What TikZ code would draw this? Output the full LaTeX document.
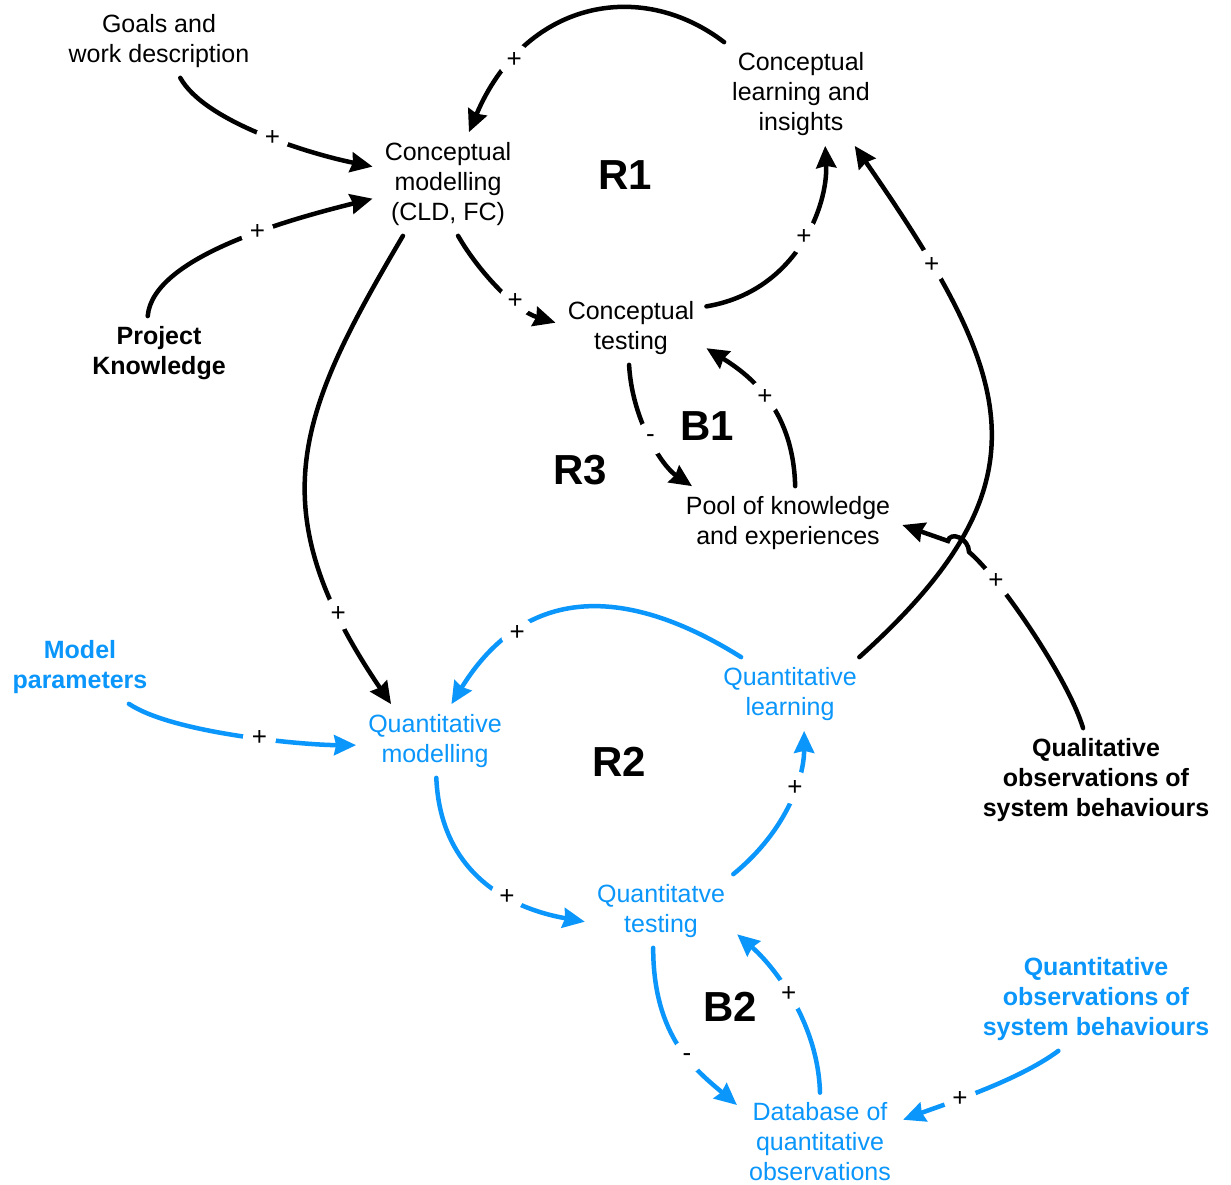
\documentclass[tikz,border=0pt]{standalone}
\usepackage{fontspec}
\setmainfont{Liberation Sans}
\usetikzlibrary{arrows.meta}
\definecolor{qblue}{RGB}{10,150,250}

\begin{document}
\begin{tikzpicture}[x=1pt,y=-1pt,
  var/.style={align=center, inner xsep=12pt, inner ysep=10pt, font=\fontsize{25}{30}\selectfont},
  ext/.style={var, font=\fontsize{25}{30}\selectfont\bfseries},
  loopname/.style={font=\fontsize{42}{50}\selectfont\bfseries},
  link/.style={line width=4.5pt, line cap=round, -{Stealth[length=22pt,width=20pt,inset=2pt]}},
  sign/.style={circle, fill=white, inner sep=0pt, minimum size=33pt, font=\fontsize{26}{26}\selectfont, text=black},
]
\fill[white] (0,0) rectangle (1231,1185);
\useasboundingbox (0,0) rectangle (1231,1185);

% variables
\node[var] (goals) at (159,41) {Goals and\\work description};
\node[var] (cm) at (448,184) {Conceptual\\modelling\\(CLD, FC)};
\node[var] (cli) at (801,94) {Conceptual\\learning and\\insights};
\node[var] (ct) at (631,328) {Conceptual\\testing};
\node[ext] (pk) at (159,353) {Project\\Knowledge};
\node[var] (pool) at (788,523) {Pool of knowledge\\and experiences};
\node[ext, text=qblue] (mp) at (80,667) {Model\\parameters};
\node[var, text=qblue] (ql) at (790,694) {Quantitative\\learning};
\node[var, text=qblue] (qm) at (435,741) {Quantitative\\modelling};
\node[ext] (qo) at (1096,780) {Qualitative\\observations of\\system behaviours};
\node[var, text=qblue] (qt) at (661,911) {Quantitatve\\testing};
\node[ext, text=qblue] (qos) at (1096,999) {Quantitative\\observations of\\system behaviours};
\node[var, text=qblue] (db) at (820,1142) {Database of\\quantitative\\observations};

% the jump of the observation link over the learning link
\coordinate (hopin) at (969,552);
\coordinate (hopout) at (948,541);

% conceptual links
\draw[link] (goals.-60) .. controls +(25,45) and +(-60,-12) .. node[sign,pos=.54] (s1) {+} (cm.167);
\draw[link] (pk.107) .. controls +(5,-60) and +(-80,20) .. node[sign,pos=.59] (s2) {+} (cm.191);
\draw[link] (cli.146) .. controls +(-85,-65) and +(55,-130) .. node[sign,pos=.775] (s3) {+} (cm.68);
\draw[link] (cm.-79) .. controls +(20,35) and +(-40,-12) .. node[sign,pos=.65] (s4) {+} (ct.176);
\draw[link] (ct.16) .. controls +(90,-15) and +(3,60) .. node[sign,pos=.53] (s5) {+} (cli.-65);
\draw[link] (cm.229) .. controls +(-103,175) and +(-135,-198) .. node[sign,pos=.835] (s6) {+} (qm.140);
\draw[link] (ct.-93) .. controls +(3,55) and +(-30,-20) .. node[sign,pos=.5] (s7) {-} (pool.159);
\draw[link] (pool.79) .. controls +(-2,-80) and +(40,25) .. node[sign,pos=.5] (s8) {+} (ct.-15);
\draw[link] (ql.28) .. controls +(196,-176) and +(159,230) .. node[sign,pos=.81] (s9) {+} (cli.-44);
\draw[link] (qo.104) .. controls +(-15,-50) and +(30,25) .. node[sign,pos=.76] (s10) {+} (hopin)
   .. controls +(0,-14) and +(2,-10) .. (hopout) -- (pool.-1);

% quantitative links
\draw[link,qblue] (ql.143) .. controls +(-78,-49) and +(89,-144) .. node[sign,pos=.77] (s11) {+} (qm.66);
\draw[link,qblue] (mp.-37) .. controls +(45,30) and +(-50,0) .. node[sign,pos=.57] (s12) {+} (qm.183);
\draw[link,qblue] (qm.-88) .. controls +(5,115) and +(-45,-8) .. node[sign,pos=.56] (s13) {+} (qt.188);
\draw[link,qblue] (qt.27) .. controls +(55,-45) and +(0,45) .. node[sign,pos=.6] (s14) {+} (ql.-69);
\draw[link,qblue] (qt.258) .. controls +(0,90) and +(-40,-34) .. node[sign,pos=.57] (s15) {-} (db.156);
\draw[link,qblue] (db.90) .. controls +(-2,-70) and +(37,32) .. node[sign,pos=.53] (s16) {+} (qt.-17);
\draw[link,qblue] (qos.234) .. controls +(-40,30) and +(40,-15) .. node[sign,pos=.62] (s17) {+} (db.15);

% loop names
\node[loopname] (r1) at (625,175) {R1};
\node[loopname] (r3) at (580,470) {R3};
\node[loopname] (b1) at (707,426) {B1};
\node[loopname] (r2) at (619,762) {R2};
\node[loopname] (b2) at (730,1007) {B2};
\end{tikzpicture}
\end{document}
